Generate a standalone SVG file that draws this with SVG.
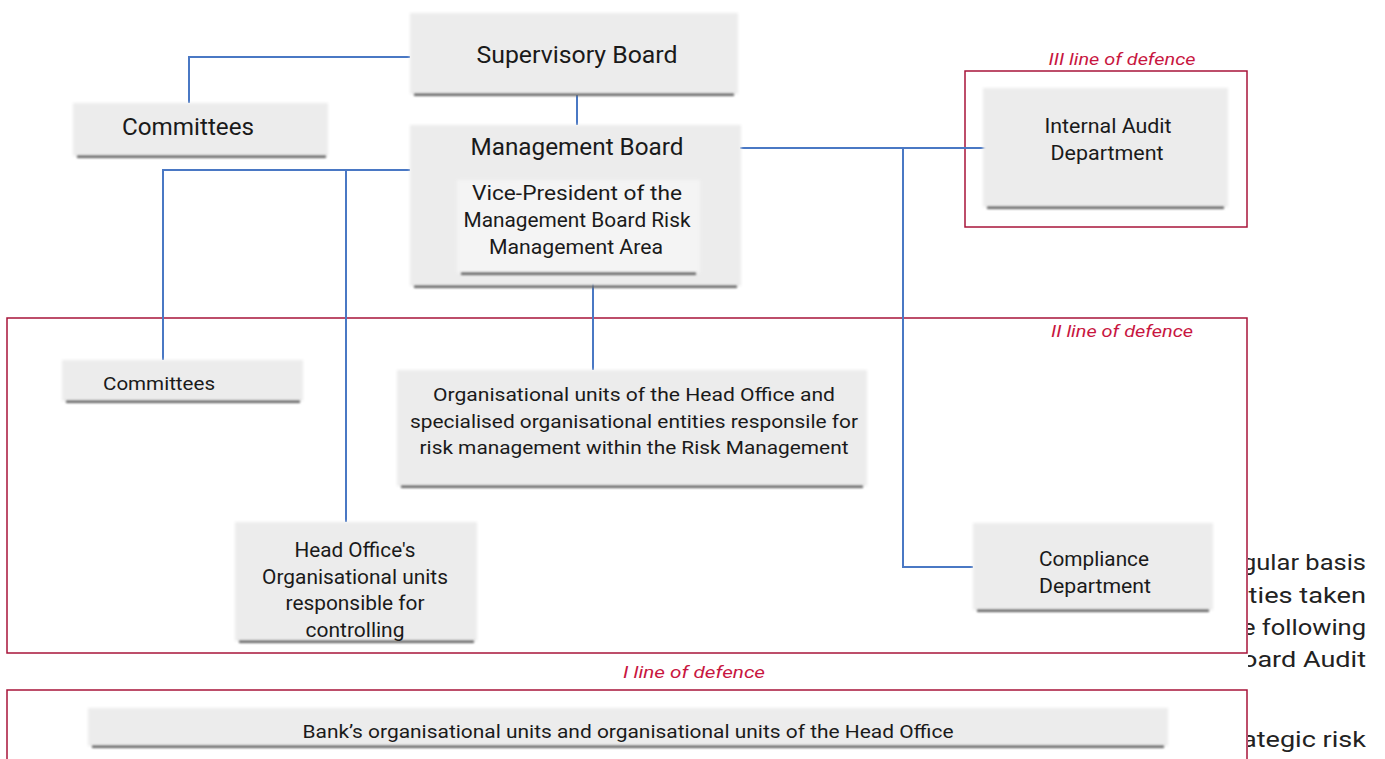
<svg xmlns="http://www.w3.org/2000/svg" width="1385" height="759" viewBox="0 0 1385 759">
<style>
  .box { fill: #ececec; filter: url(#soft); }
  .inner { fill: #f4f4f4; filter: url(#soft); }
  .sh { fill: #5e5e5e; filter: url(#blur); }
  .zone { fill: none; stroke: #a8143a; stroke-width: 1.5; }
  .conn { fill: none; stroke: #4a78c4; stroke-width: 2; }
  .t { font-family: Roboto, "Liberation Sans", sans-serif; fill: #1a1a1a; text-anchor: middle; }
  .lab { font-family: Roboto, "Liberation Sans", sans-serif; font-style: italic; fill: #c8163f; text-anchor: middle; font-size: 17px; }
  .para { font-family: Roboto, "Liberation Sans", sans-serif; fill: #222; font-size: 22px; text-anchor: end; }
</style>
<defs>
  <filter id="blur" filterUnits="userSpaceOnUse" x="0" y="0" width="1385" height="759"><feGaussianBlur stdDeviation="0.9"/></filter>
  <filter id="soft" filterUnits="userSpaceOnUse" x="0" y="0" width="1385" height="759"><feGaussianBlur stdDeviation="1.6"/></filter>
  <clipPath id="pclip"><rect x="1248" y="0" width="137" height="759"/></clipPath>
</defs>
<rect x="0" y="0" width="1385" height="759" fill="#ffffff"/>

<g id="paragraph" clip-path="url(#pclip)">
  <text class="para" x="1366" y="570" textLength="124" lengthAdjust="spacingAndGlyphs">gular basis</text>
  <text class="para" x="1366" y="603" textLength="124" lengthAdjust="spacingAndGlyphs">ities taken</text>
  <text class="para" x="1366" y="635" textLength="124" lengthAdjust="spacingAndGlyphs">e following</text>
  <text class="para" x="1366" y="667" textLength="124" lengthAdjust="spacingAndGlyphs">oard Audit</text>
  <text class="para" x="1366" y="747" textLength="124" lengthAdjust="spacingAndGlyphs">ategic risk</text>
</g>

<g id="zones">
  <rect class="zone" x="965" y="71" width="282" height="156"/>
  <rect class="zone" x="7" y="318" width="1240" height="335"/>
  <path class="zone" d="M7,762 V690 H1247 V762"/>
  <text class="lab" x="1122" y="65" textLength="147" lengthAdjust="spacingAndGlyphs">III line of defence</text>
  <text class="lab" x="1122" y="337" textLength="142" lengthAdjust="spacingAndGlyphs">II line of defence</text>
  <text class="lab" x="694" y="678" textLength="142" lengthAdjust="spacingAndGlyphs">I line of defence</text>
</g>

<g id="connectors">
  <path class="conn" d="M410,57 H189 V103"/>
  <path class="conn" d="M577,95 V125"/>
  <path class="conn" d="M410,170 H163 V360"/>
  <path class="conn" d="M346,170 V522"/>
  <path class="conn" d="M593,274 V370"/>
  <path class="conn" d="M740,148 H988"/>
  <path class="conn" d="M903,148 V567 H973"/>
</g>

<g id="supervisory-board">
  <rect class="box" x="410" y="13" width="328" height="81"/>
  <rect class="sh" x="414" y="93.5" width="320" height="2.5"/>
  <text class="t" x="577" y="63" font-size="24" textLength="201" lengthAdjust="spacingAndGlyphs">Supervisory Board</text>
</g>

<g id="committees-top">
  <rect class="box" x="73" y="103" width="255" height="53"/>
  <rect class="sh" x="77" y="155.5" width="249" height="2.5"/>
  <text class="t" x="188" y="135" font-size="24" textLength="132" lengthAdjust="spacingAndGlyphs">Committees</text>
</g>

<g id="management-board">
  <rect class="box" x="410" y="125" width="331" height="161"/>
  <rect class="sh" x="414" y="285.5" width="323" height="2.5"/>
  <text class="t" x="577" y="155" font-size="24" textLength="213" lengthAdjust="spacingAndGlyphs">Management Board</text>
  <g id="vice-president">
    <rect class="inner" x="457" y="180" width="243" height="93"/>
    <rect class="sh" x="461" y="272.5" width="235" height="2.5"/>
    <text class="t" x="577" y="200" font-size="20" textLength="210" lengthAdjust="spacingAndGlyphs">Vice-President of the</text>
    <text class="t" x="577" y="227" font-size="20" textLength="227" lengthAdjust="spacingAndGlyphs">Management Board Risk</text>
    <text class="t" x="576" y="254" font-size="20" textLength="174" lengthAdjust="spacingAndGlyphs">Management Area</text>
  </g>
</g>

<g id="internal-audit">
  <rect class="box" x="983" y="88" width="245" height="119"/>
  <rect class="sh" x="987" y="206.5" width="237" height="2.5"/>
  <text class="t" x="1108" y="133" font-size="20" textLength="127" lengthAdjust="spacingAndGlyphs">Internal Audit</text>
  <text class="t" x="1107" y="160" font-size="20" textLength="113" lengthAdjust="spacingAndGlyphs">Department</text>
</g>

<g id="committees-ii">
  <rect class="box" x="62" y="360" width="241" height="41"/>
  <rect class="sh" x="66" y="400.5" width="234" height="2.5"/>
  <text class="t" x="159" y="390" font-size="19" textLength="112" lengthAdjust="spacingAndGlyphs">Committees</text>
</g>

<g id="risk-units">
  <rect class="box" x="397" y="370" width="470" height="116"/>
  <rect class="sh" x="401" y="485.5" width="462" height="2.5"/>
  <text class="t" x="634" y="401" font-size="19" textLength="402" lengthAdjust="spacingAndGlyphs">Organisational units of the Head Office and</text>
  <text class="t" x="634" y="428" font-size="19" textLength="448" lengthAdjust="spacingAndGlyphs">specialised organisational entities responsile for</text>
  <text class="t" x="634" y="454" font-size="19" textLength="429" lengthAdjust="spacingAndGlyphs">risk management within the Risk Management</text>
</g>

<g id="controlling-units">
  <rect class="box" x="235" y="522" width="242" height="119"/>
  <rect class="sh" x="239" y="640.5" width="235" height="2.5"/>
  <text class="t" x="355" y="557" font-size="20" textLength="121" lengthAdjust="spacingAndGlyphs">Head Office's</text>
  <text class="t" x="355" y="584" font-size="20" textLength="186" lengthAdjust="spacingAndGlyphs">Organisational units</text>
  <text class="t" x="355" y="610" font-size="20" textLength="139" lengthAdjust="spacingAndGlyphs">responsible for</text>
  <text class="t" x="355" y="637" font-size="20" textLength="99" lengthAdjust="spacingAndGlyphs">controlling</text>
</g>

<g id="compliance">
  <rect class="box" x="973" y="523" width="240" height="87"/>
  <rect class="sh" x="977" y="609.5" width="232" height="2.5"/>
  <text class="t" x="1094" y="566" font-size="20" textLength="110" lengthAdjust="spacingAndGlyphs">Compliance</text>
  <text class="t" x="1095" y="593" font-size="20" textLength="112" lengthAdjust="spacingAndGlyphs">Department</text>
</g>

<g id="bank-units">
  <rect class="box" x="88" y="708" width="1080" height="38"/>
  <rect class="sh" x="92" y="745.5" width="1072" height="2.5"/>
  <text class="t" x="628" y="738" font-size="19" textLength="651" lengthAdjust="spacingAndGlyphs">Bank’s organisational units and organisational units of the Head Office</text>
</g>
</svg>
